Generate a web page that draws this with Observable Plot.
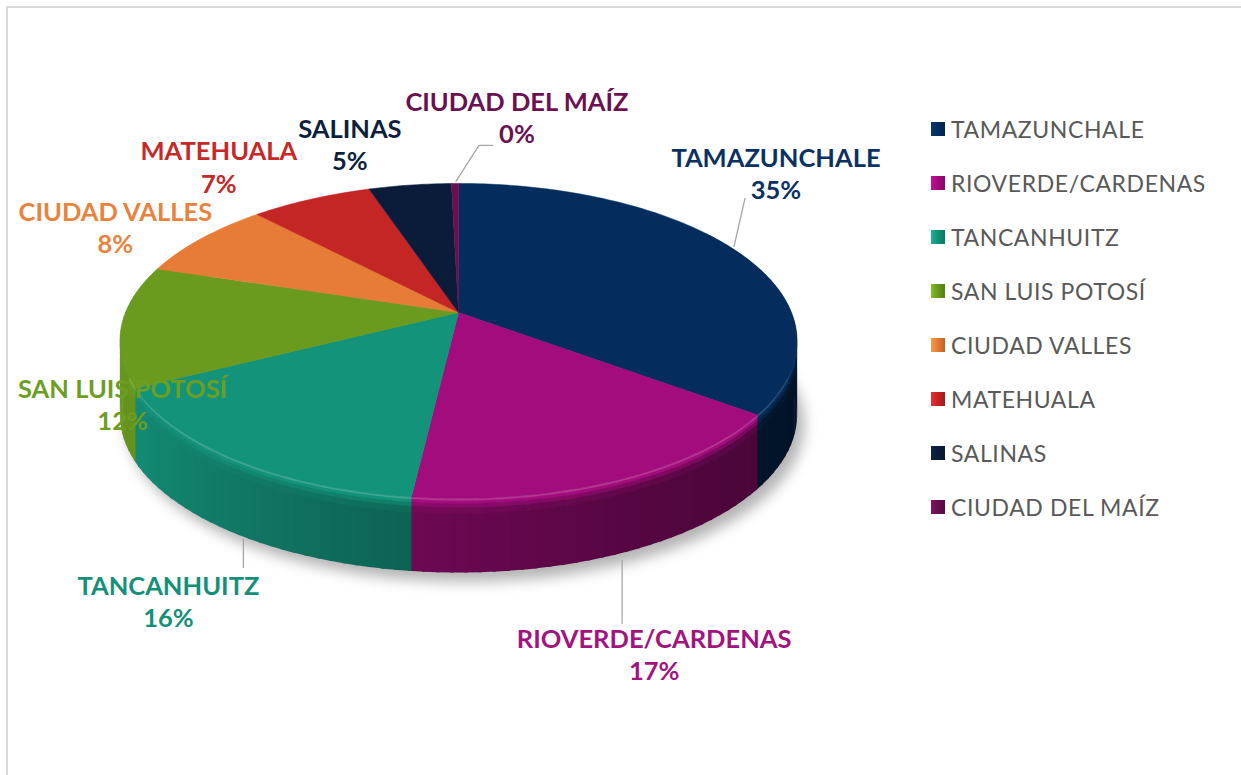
<!DOCTYPE html>
<html><head><meta charset="utf-8">
<script src="https://cdn.jsdelivr.net/npm/d3@7"></script>
<script src="https://cdn.jsdelivr.net/npm/@observablehq/plot@0.6"></script>
<style>
html,body{margin:0;padding:0;background:#fff;overflow:hidden;width:1241px;height:775px}
#frame{position:absolute;left:6px;top:6px;width:1400px;height:1000px;border:2px solid #d9d9d9;box-sizing:border-box}
#chart{position:absolute;left:0;top:0}
#legend{position:absolute;left:931px;top:102px;font-family:Lato,sans-serif;font-size:23px;letter-spacing:0.6px;color:#595959}
.item{height:54px;display:flex;align-items:center;white-space:nowrap}
.sw{width:14px;height:14px;margin-right:6px;flex:none}
</style></head><body>
<div id="frame"></div><div id="chart"></div><div id="legend"></div>
<script>
// ---- data ----
const categories = ["TAMAZUNCHALE","RIOVERDE/CARDENAS","TANCANHUITZ","SAN LUIS POTOSÍ","CIUDAD VALLES","MATEHUALA","SALINAS","CIUDAD DEL MAÍZ"];
const values = [35.2, 16.6, 15.6, 12.4, 8.1, 6.9, 4.7, 0.4];
// ---- styles ----
const palette = ["#042d5d","#a30c7d","#14937b","#6a9b1e","#e67c36","#c42525","#0b1c3a","#6a0f4f"];
const labelColors = ["#0b3163","#a3137f","#14907a","#6c9e1f","#e8823d","#c62828","#0c1f3d","#6b1050"];
// label offsets from the slice's outer-edge midpoint (layout)
const labelDx = [42, 38, -67, 1, -86, -92, -60, 62];
const labelDy = [-77, 173, 141, 78, -12, -33, -41, -67];

// ---- geometry ----
const cx = 458, cy = 312, A = 152.4, B = 333, k = 0.181, D = 74;
function P(t, h = 0) {
  const u = Math.sin(t), v = -Math.cos(t), s = 1 / (1 - k * v);
  return [cx + B * u * s, cy + A * v * s + h];
}
const total = d3.sum(values);
const arcs = d3.pie().sort(null).value(d => d)(values);
const deg = Math.PI / 180;

// top faces
const topPts = [];
arcs.forEach((a, i) => {
  const n = Math.max(2, Math.ceil((a.endAngle - a.startAngle) / deg));
  topPts.push({id: "t" + i, x: cx, y: cy, c: palette[i]});
  for (let j = 0; j <= n; j++) {
    const [x, y] = P(a.startAngle + (a.endAngle - a.startAngle) * j / n);
    topPts.push({id: "t" + i, x, y, c: palette[i]});
  }
});

// side walls (front part), split into overlapping strips for shading
const bands = [0, 2, 5, 9, 15, D];
const wallPts = [];
const lo = 55 * deg, hi = 305 * deg, step = 2 * deg, ov = 0.5 * deg;
arcs.forEach((a, i) => {
  const a0 = Math.max(a.startAngle, lo), a1 = Math.min(a.endAngle, hi);
  if (a1 <= a0) return;
  const n = Math.max(1, Math.ceil((a1 - a0) / step));
  for (let j = 0; j < n; j++) {
    const t0 = a0 + (a1 - a0) * j / n;
    const t1 = Math.min(a0 + (a1 - a0) * (j + 1) / n + ov, hi);
    const um = Math.sin(a0 + (a1 - a0) * (j + 0.5) / n);
    const base = palette[i];
    const wall = d3.color(base).darker(Math.max(0.1, 1.25 + 1.2 * um)).formatHex();
    const cols = [
      d3.interpolateRgb(base, "#ffffff")(0.18),
      base,
      d3.interpolateRgb(base, wall)(0.45),
      d3.interpolateRgb(base, wall)(0.85),
      wall
    ];
    for (let b = 0; b < 5; b++) {
      const id = `w${i}_${j}_${b}`, c = cols[b];
      const h1 = b < 4 ? bands[b + 1] + 0.6 : bands[b + 1];
      const pts = [P(t0, bands[b]), P(t1, bands[b]), P(t1, h1), P(t0, h1)];
      pts.forEach(([x, y]) => wallPts.push({id, x, y, c}));
    }
  }
});

// shadow
const shadowPts = d3.range(0, 361, 2).map(d => { const [x, y] = P(d * deg, D); return {x: x + 7, y: y + 9}; });

// labels
const labels = arcs.map((a, i) => {
  const [mx, my] = P((a.startAngle + a.endAngle) / 2);
  return {i, mx, my, x: mx + labelDx[i], y: my + labelDy[i],
    text: categories[i] + "\n" + Math.round(values[i] / total * 100) + "%", c: labelColors[i]};
});

// leader lines
const leaderPts = [];
function lead(id, pts) { pts.forEach(([x, y]) => leaderPts.push({id, x, y})); }
{
  const L = labels;
  lead("l0", [[L[0].mx, L[0].my - 3], [L[0].x - 31, L[0].y + 26]]);
  lead("l1", [[L[1].x - 32, L[1].my + D + 6], [L[1].x - 32, L[1].y - 30]]);
  lead("l2", [[L[2].x + 75, L[2].my + D + 6], [L[2].x + 75, L[2].y - 33]]);
  lead("l7", [[L[7].mx + 1, L[7].my - 2], [L[7].x - 38, L[7].y + 29], [L[7].x - 24, L[7].y + 29]]);
}

const plot = Plot.plot({
  width: 1241, height: 775, margin: 0,
  x: {domain: [0, 1241], range: [0, 1241], axis: null},
  y: {domain: [0, 775], range: [0, 775], axis: null},
  color: {type: "identity"},
  style: {background: "transparent", overflow: "visible"},
  marks: [
    Plot.line(shadowPts, {x: "x", y: "y", fill: "#000", fillOpacity: 0.3, stroke: "none", curve: "linear-closed"}),
    Plot.line(wallPts, {x: "x", y: "y", z: "id", fill: "c", stroke: "none", curve: "linear-closed"}),
    Plot.line(topPts, {x: "x", y: "y", z: "id", fill: "c", stroke: "c", strokeWidth: 0.5, curve: "linear-closed"}),
    Plot.line(leaderPts, {x: "x", y: "y", z: "id", stroke: "#a6a6a6", strokeWidth: 1.3}),
    Plot.text(labels, {x: "x", y: "y", text: "text", fill: "c", fontSize: 25.5, fontWeight: "bold",
      fontFamily: "Lato", lineHeight: 1.26})
  ]
});
const svg = d3.select(plot);
svg.insert("defs", ":first-child").html('<filter id="sh" x="-20%" y="-40%" width="140%" height="180%"><feGaussianBlur stdDeviation="7"/></filter>');
svg.select('g[aria-label="line"]').attr("filter", "url(#sh)");
document.getElementById("chart").appendChild(plot);

// legend
const leg = d3.select("#legend");
categories.forEach((c, i) => {
  const base = d3.color(palette[i]);
  const item = leg.append("div").attr("class", "item");
  item.append("div").attr("class", "sw")
    .style("background", `linear-gradient(90deg, ${base.brighter(0.6)} 0%, ${base} 45%, ${base.darker(0.6)} 100%)`);
  item.append("span").text(c);
});
</script>
</body></html>
